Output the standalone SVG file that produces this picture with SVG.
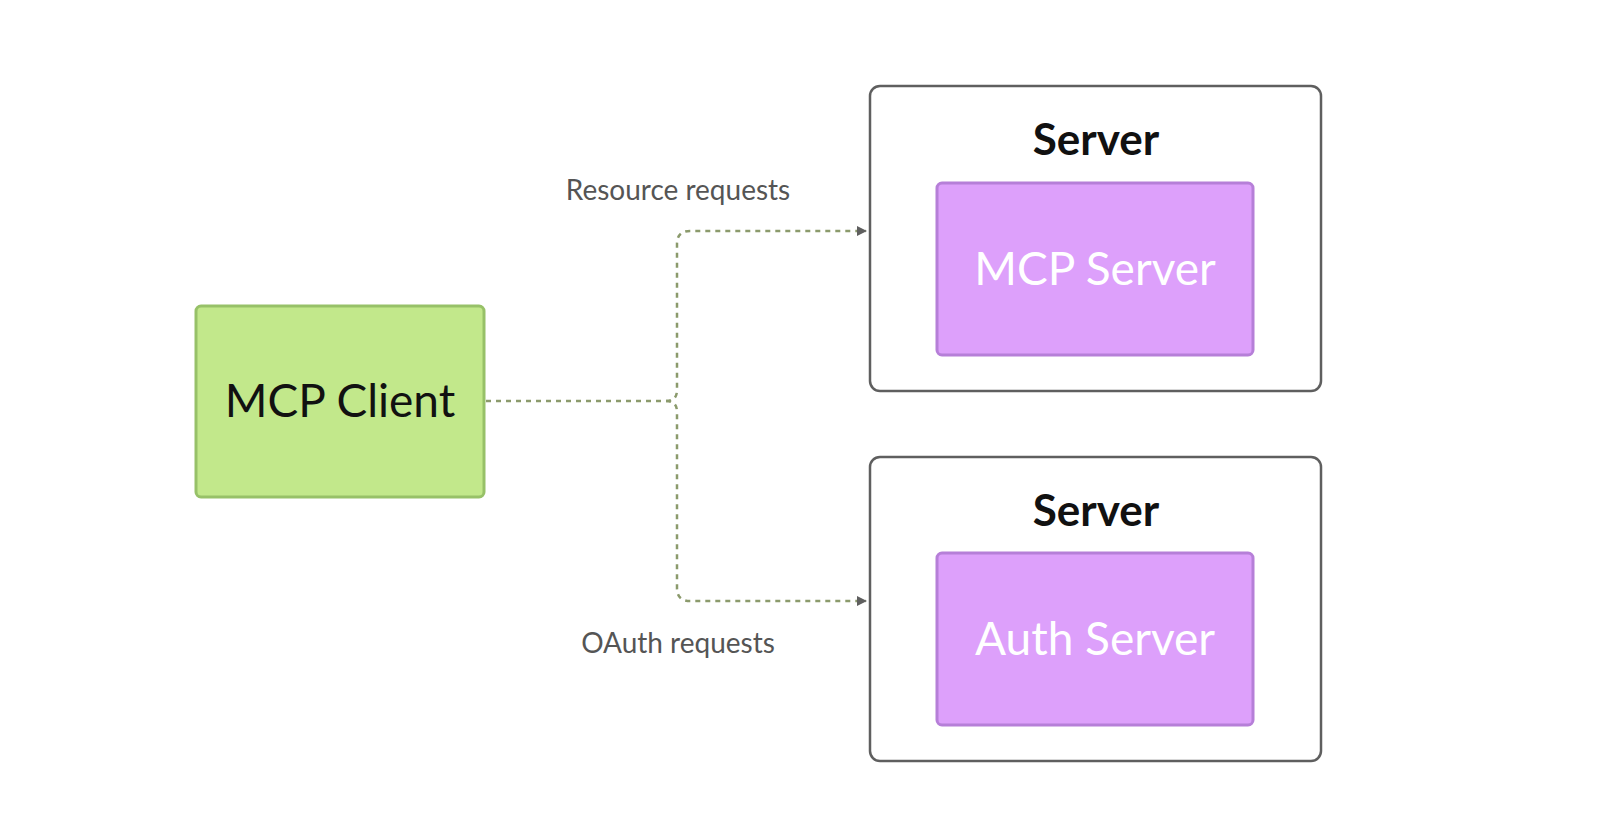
<svg xmlns="http://www.w3.org/2000/svg" width="1600" height="840" viewBox="0 0 1600 840">
<style>
text{font-family:Lato,"Open Sans",sans-serif}
.outer{fill:#fff;stroke:#5f5f5f;stroke-width:2.5}
.inner{fill:#dda0fb;stroke:#b67fd8;stroke-width:3}
.title{font-size:44px;font-weight:bold;fill:#111;text-anchor:middle}
.in{font-size:46px;fill:#fff;text-anchor:middle}
.lbl{font-size:28px;fill:#555;text-anchor:middle}
.c{fill:none;stroke:#8b9a6c;stroke-width:2.5;stroke-dasharray:5 5}
</style>
<defs><marker id="a" markerWidth="10" markerHeight="10" refX="9" refY="5" orient="auto" markerUnits="userSpaceOnUse" viewBox="0 0 10 10"><path d="M0,0L10,5L0,10z" fill="#5f5f5f"/></marker></defs>
<g id="client"><rect x="196" y="306" width="288" height="191" rx="5" fill="#c2e88b" stroke="#97c168" stroke-width="3"/><text x="340" y="417" font-size="46" fill="#111" text-anchor="middle">MCP Client</text></g>
<g id="server1"><rect class="outer" x="870" y="86" width="451" height="305" rx="10"/><text class="title" x="1096" y="155">Server</text>
<g id="mcpserver"><rect class="inner" x="937" y="183" width="316" height="172" rx="5"/><text class="in" x="1095" y="285">MCP Server</text></g></g>
<g id="server2"><rect class="outer" x="870" y="457" width="451" height="304" rx="10"/><text class="title" x="1096" y="526">Server</text>
<g id="authserver"><rect class="inner" x="937" y="553" width="316" height="172" rx="5"/><text class="in" x="1095" y="655">Auth Server</text></g></g>
<g id="connectors">
<path class="c" d="M486,401H666Q677,401 677,390V244Q677,231 690,231H866" marker-end="url(#a)"/>
<path class="c" d="M666,401Q677,401 677,412V588Q677,601 690,601H866" marker-end="url(#a)"/>
<text class="lbl" x="678" y="200">Resource requests</text>
<text class="lbl" x="678" y="653">OAuth requests</text>
</g>
</svg>
